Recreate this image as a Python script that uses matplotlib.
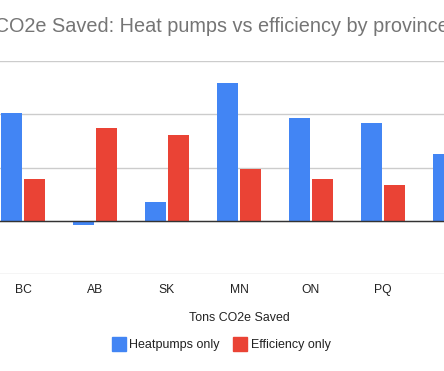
import matplotlib
matplotlib.use("Agg")
import matplotlib.pyplot as plt
from matplotlib.lines import Line2D
import numpy as np

plt.rcParams['font.family'] = ['Liberation Sans', 'DejaVu Sans']

provinces = ["BC", "AB", "SK", "MN", "ON", "PQ", ""]
heatpumps = [2.03, -0.08, 0.36, 2.58, 1.93, 1.84, 1.26]
efficiency = [0.79, 1.75, 1.61, 0.98, 0.79, 0.68, 0.70]
series_names = ["Heatpumps only", "Efficiency only"]
title = "Tons CO2e Saved: Heat pumps vs efficiency by province"
axis_title = "Tons CO2e Saved"

BLUE = "#4285F4"
RED = "#EA4335"

W, H = 444, 371
fig = plt.figure(figsize=(W / 100, H / 100), dpi=100)

ax_left, ax_right = -13, 491
ax_top, ax_bottom = 61, 274.3
ax = fig.add_axes([ax_left / W, 1 - ax_bottom / H, (ax_right - ax_left) / W, (ax_bottom - ax_top) / H])

x = np.arange(len(provinces))
bw = 0.29
off = 0.16
ax.bar(x - off, heatpumps, bw, color=BLUE, zorder=3)
ax.bar(x + off, efficiency, bw, color=RED, zorder=3)

ax.set_xlim(-0.5, len(provinces) - 0.5)
ax.set_ylim(-1, 3)
ax.set_yticks([-1, 0, 1, 2, 3])
ax.set_yticklabels([])
ax.tick_params(axis='y', length=0)
ax.grid(axis='y', color='#cccccc', linewidth=1, zorder=0)
ax.axhline(0, color='#333333', linewidth=1, zorder=4)
for s in ax.spines.values():
    s.set_visible(False)

ax.set_xticks(x)
ax.set_xticklabels(provinces, fontsize=8.7, color='#222222')
ax.tick_params(axis='x', length=0, pad=7)

fig.text(449 / W, 1 - 27 / H, title, ha='right', va='center', fontsize=14.3, color='#757575')
fig.text(239 / W, 1 - 318 / H, axis_title, ha='center', va='center', fontsize=8.9, color='#222222')

handles = [Line2D([0], [0], marker='s', linestyle='none', markersize=10, markerfacecolor=c, markeredgecolor=c)
           for c in (BLUE, RED)]
leg = fig.legend(handles, series_names, loc='center', bbox_to_anchor=(221.5 / W, 1 - 345 / H), ncol=2,
                 frameon=False, fontsize=9, handletextpad=0.35, columnspacing=1.1, handlelength=1.0)
for t in leg.get_texts():
    t.set_color('#222222')

fig.savefig("out.png", dpi=100)
